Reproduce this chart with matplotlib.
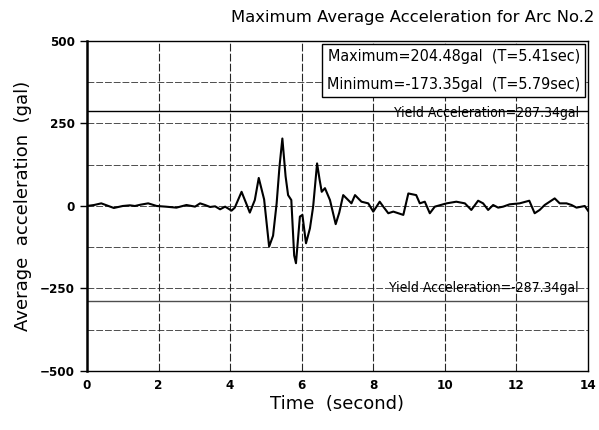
import numpy as np
import matplotlib.pyplot as plt

# time history (sec, gal)
t = [0.0, 0.2, 0.4, 0.55, 0.75, 1.0, 1.2, 1.34, 1.5, 1.71, 1.95, 2.2, 2.5, 2.78, 3.02,
     3.16, 3.3, 3.44, 3.58, 3.72, 3.86, 4.04, 4.13, 4.32, 4.46, 4.55, 4.69, 4.8, 4.95,
     5.09, 5.2, 5.3, 5.38, 5.46, 5.55, 5.62, 5.71, 5.79, 5.84, 5.95, 6.02, 6.12, 6.23,
     6.32, 6.43, 6.5, 6.56, 6.65, 6.79, 6.95, 7.05, 7.16, 7.3, 7.39, 7.49, 7.67, 7.86,
     8.0, 8.18, 8.28, 8.42, 8.56, 8.84, 8.98, 9.2, 9.3, 9.44, 9.58, 9.72, 10.05, 10.32,
     10.56, 10.74, 10.93, 11.07, 11.21, 11.35, 11.49, 11.63, 11.81, 12.09, 12.36, 12.51,
     12.65, 12.79, 13.07, 13.21, 13.4, 13.54, 13.68, 13.91, 14.0]
acc = [0, 3, 8, 2, -6, 0, 2, 0, 4, 8, 0, -2, -5, 3, -2,
       8, 3, -3, -1, -10, -2, -14, -5, 43, 5, -20, 18, 85, 20,
       -123, -90, 8, 120, 204.48, 90, 33, 18, -150, -173.35, -32, -27, -113, -68,
       -2, 129, 80, 43, 54, 18, -55, -20, 33, 18, 8, 33, 13, 8,
       -17, 13, -2, -22, -17, -27, 38, 33, 8, 13, -22, -2, 8, 13,
       8, -12, 16, 8, -12, 3, -5, -2, 5, 8, 16, -22,
       -12, 3, 23, 8, 8, 3, -5, 0, -14]

yield_acc = 287.34
xticks = [0, 2, 4, 6, 8, 10, 12, 14]
yticks = [-500, -250, 0, 250, 500]
ygrid = [-375, -250, -125, 0, 125, 250, 375]

fig = plt.figure(figsize=(5.99, 4.30), dpi=100)
ax = fig.add_axes([0.1452, 0.1372, 0.8364, 0.7675])

for g in ygrid:
    ax.axhline(g, color='0.3', lw=0.7, ls=(0, (7, 2)), zorder=1)
for g in xticks[1:-1]:
    ax.axvline(g, color='0.15', lw=0.8, ls=(0, (7, 2)), zorder=1)
ax.axhline(yield_acc, color='k', lw=1.0, zorder=2)
ax.axhline(-yield_acc, color='0.3', lw=1.0, zorder=2)

ax.plot(t, acc, color='k', lw=1.5, zorder=3)

cond = dict(family='DejaVu Sans', stretch='condensed')
ax.text(13.75, 282, 'Yield Acceleration=287.34gal', ha='right', va='center',
        fontsize=10, zorder=4, **cond)
ax.text(13.75, -250, 'Yield Acceleration=-287.34gal', ha='right', va='center',
        fontsize=10, zorder=4, **cond)
ax.text(0.985, 0.975,
        'Maximum=204.48gal  (T=5.41sec)\nMinimum=-173.35gal  (T=5.79sec)',
        transform=ax.transAxes, ha='right', va='top', fontsize=11.5,
        linespacing=2.1,
        bbox=dict(boxstyle='square,pad=0.3', fc='white', ec='k', lw=1.0), zorder=5,
        **cond)

ax.set_xlim(0, 14)
ax.set_ylim(-500, 500)
ax.set_xticks(xticks)
ax.set_yticks(yticks)
ax.tick_params(axis='y', direction='out', length=5, width=1)
ax.tick_params(axis='x', direction='in', length=0, pad=6)
for lab in ax.get_xticklabels() + ax.get_yticklabels():
    lab.set_family('DejaVu Sans')
    lab.set_stretch('condensed')
    lab.set_fontsize(9.5)
    lab.set_fontweight('bold')
for s in ax.spines.values():
    s.set_linewidth(1.0)
ax.spines['left'].set_linewidth(1.8)

ax.set_xlabel('Time  (second)', fontsize=13, labelpad=2)
ax.set_ylabel('Average  acceleration  (gal)', fontsize=13, labelpad=6)
fig.text(0.993, 0.96, 'Maximum Average Acceleration for Arc No.2',
         ha='right', va='center', fontsize=11.8)

fig.savefig('out.png', dpi=100)
